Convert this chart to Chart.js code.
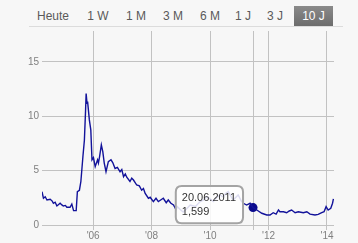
<!DOCTYPE html>
<html>
<head>
<meta charset="utf-8">
<script src="https://cdn.jsdelivr.net/npm/chart.js@4/dist/chart.umd.min.js"></script>
<style>
  html, body { margin: 0; padding: 0; background: #f7f7f7; }
  body { width: 358px; height: 243px; position: relative; overflow: hidden; font-family: "Liberation Sans", Arial, sans-serif; }
  #tabs { position: absolute; left: 29px; top: 0; width: 314px; height: 26px; border-bottom: 1px solid #dcdcdc; }
  .tab { position: absolute; top: 6px; height: 20px; line-height: 20px; font-size: 12px; color: #5a5a5a; text-align: center; }
  .tab.on { background: linear-gradient(#8a8a8a, #6c6c6c); color: #fff; }
  #c { position: absolute; left: 0; top: 0; }
</style>
</head>
<body>
<div id="tabs"></div>
<canvas id="c" width="358" height="243"></canvas>
<script>
// range buttons
const tabLabels = ["Heute", "1 W", "1 M", "3 M", "6 M", "1 J", "3 J", "10 J"];
const tabLeft = [6, 56, 94, 131, 168, 204, 236, 265];
const tabWidth = [36, 26, 26, 26, 26, 20, 20, 39];
const selectedTab = "10 J";

// series (decimal years, value)
const years = [
  2004.25, 2004.30, 2004.36, 2004.42, 2004.53, 2004.60, 2004.64, 2004.70, 2004.76, 2004.87,
  2004.93, 2004.98, 2005.05, 2005.10, 2005.21, 2005.27, 2005.33, 2005.42, 2005.46, 2005.53,
  2005.58, 2005.65, 2005.70, 2005.74, 2005.76, 2005.79, 2005.81, 2005.87, 2005.92, 2005.96,
  2006.01, 2006.07, 2006.15, 2006.18, 2006.22, 2006.28, 2006.33, 2006.38, 2006.44, 2006.52,
  2006.61, 2006.67, 2006.75, 2006.83, 2006.92, 2006.98, 2007.04, 2007.10, 2007.15, 2007.26,
  2007.32, 2007.38, 2007.49, 2007.58, 2007.66, 2007.72, 2007.78, 2007.89, 2007.95, 2008.06,
  2008.15, 2008.23, 2008.31, 2008.40, 2008.50, 2008.57, 2008.66, 2008.75, 2008.84, 2008.88,
  2008.97, 2009.08, 2009.20, 2009.32, 2009.50, 2009.66, 2009.78, 2009.89, 2010.00, 2010.11,
  2010.22, 2010.34, 2010.44, 2010.53, 2010.62, 2010.70, 2010.79, 2010.96, 2011.08, 2011.14,
  2011.25, 2011.37, 2011.47, 2011.60, 2011.77, 2011.94, 2012.05, 2012.16, 2012.26, 2012.34,
  2012.39, 2012.51, 2012.62, 2012.71, 2012.79, 2012.91, 2013.02, 2013.19, 2013.31, 2013.42,
  2013.59, 2013.70, 2013.82, 2013.90, 2013.97, 2014.04, 2014.13, 2014.19, 2014.22
];
const values = [
  3.07, 2.46, 2.6, 2.3, 2.37, 2.2, 2.0, 2.1, 1.75, 2.0,
  1.85, 1.75, 1.8, 1.63, 1.63, 1.93, 1.32, 1.32, 3.07, 3.2,
  4.0, 6.3, 7.8, 10.5, 12.1, 11.2, 11.35, 9.67, 8.75, 6.0,
  6.2, 5.37, 6.0, 5.7, 6.3, 7.37, 6.75, 5.7, 4.9, 5.83,
  6.0, 5.74, 5.2, 5.3, 4.9, 5.1, 4.45, 4.7, 4.4, 4.0,
  4.3, 4.14, 3.68, 3.6, 3.2, 3.35, 2.9, 2.46, 2.55, 2.15,
  2.46, 2.15, 2.3, 2.46, 2.05, 2.3, 2.0, 1.84, 1.38, 1.69,
  1.45, 1.2, 1.5, 1.84, 1.7, 2.15, 2.3, 2.6, 2.4, 2.15,
  2.5, 2.76, 2.6, 2.9, 3.07, 2.7, 2.3, 2.76, 2.15, 2.0,
  1.84, 2.0, 1.599, 1.38, 1.08, 0.92, 0.92, 1.13, 1.0, 1.38,
  1.22, 1.22, 1.13, 1.29, 1.38, 1.13, 1.22, 1.13, 1.22, 1.0,
  0.92, 0.98, 1.13, 1.22, 1.69, 1.38, 1.54, 2.0, 2.4
];

// hovered point
const hoverYear = 2011.47;
const hoverValue = 1.599;
const hoverLabel = "20.06.2011";

const yTicks = [0, 5, 10, 15];
const xTicks = [2006, 2008, 2010, 2012, 2014];

const tabs = document.getElementById("tabs");
tabLabels.forEach((t, i) => {
  const el = document.createElement("div");
  el.className = "tab" + (t === selectedTab ? " on" : "");
  el.style.left = tabLeft[i] + "px";
  el.style.width = tabWidth[i] + "px";
  el.textContent = t;
  tabs.appendChild(el);
});

const font = "'Liberation Sans', Arial, sans-serif";

Chart.Tooltip.positioners.nextToPoint = function (items) {
  if (!items.length) return false;
  return { x: items[0].element.x, y: items[0].element.y - 3 };
};

const ctx = document.getElementById("c").getContext("2d");
const chart = new Chart(ctx, {
  type: "line",
  data: {
    datasets: [
      {
        data: years.map((x, i) => ({ x: x, y: values[i] })),
        borderColor: "#12129a",
        borderWidth: 1.4,
        pointRadius: 0,
        pointHoverRadius: 0,
        tension: 0,
      },
      {
        data: [{ x: hoverYear, y: hoverValue }],
        showLine: false,
        pointRadius: 4.5,
        pointHoverRadius: 4.5,
        pointBackgroundColor: "#0a0a8c",
        pointHoverBackgroundColor: "#0a0a8c",
        pointBorderWidth: 0,
        pointHoverBorderWidth: 0,
      },
    ],
  },
  options: {
    responsive: false,
    animation: false,
    events: [],
    layout: { padding: { top: 31, right: 24, left: 0, bottom: 0 } },
    scales: {
      x: {
        type: "linear",
        min: 2004.25,
        max: 2014.24,
        afterBuildTicks: (scale) => {
          scale.ticks = xTicks.concat([hoverYear]).map((v) => ({ value: v }));
        },
        afterFit: (scale) => {
          scale.height = 18;
        },
        border: { display: false },
        grid: {
          color: "#c2c2c2",
          lineWidth: 1,
          tickLength: 5,
        },
        ticks: {
          padding: 0,
          color: "#808080",
          font: { size: 10, family: font },
          maxRotation: 0,
          callback: (v) => (Number.isInteger(v) ? "'" + String(v).slice(2) : ""),
        },
      },
      y: {
        min: 0,
        max: 17.85,
        afterBuildTicks: (scale) => {
          scale.ticks = yTicks.map((v) => ({ value: v }));
        },
        afterFit: (scale) => {
          scale.width = 42;
        },
        border: { display: false },
        grid: { color: "#c2c2c2", lineWidth: 1, drawTicks: false },
        ticks: {
          padding: 3,
          color: "#808080",
          font: { size: 10, family: font },
        },
      },
    },
    plugins: {
      legend: { display: false },
      tooltip: {
        position: "nextToPoint",
        xAlign: "right",
        yAlign: "center",
        caretSize: 0,
        caretPadding: 10,
        backgroundColor: "rgba(255,255,255,0.85)",
        borderColor: "#a4a4a4",
        borderWidth: 2,
        cornerRadius: 6,
        displayColors: false,
        titleColor: "#333",
        bodyColor: "#333",
        titleFont: { size: 11, weight: "normal", family: font },
        bodyFont: { size: 11, family: font },
        titleMarginBottom: 1,
        padding: { left: 6, right: 7, top: 5, bottom: 5 },
        filter: (item) => item.datasetIndex === 1,
        callbacks: {
          title: () => hoverLabel,
          label: (c) => c.parsed.y.toFixed(3).replace(".", ","),
        },
      },
    },
  },
});

const active = [{ datasetIndex: 1, index: 0 }];
chart.setActiveElements(active);
chart.tooltip.setActiveElements(active, { x: 0, y: 0 });
chart.update();
</script>
</body>
</html>
